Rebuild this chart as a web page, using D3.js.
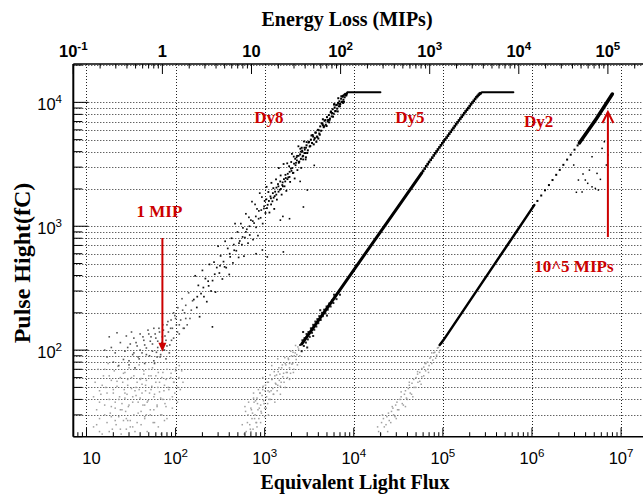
<!DOCTYPE html>
<html><head><meta charset="utf-8">
<script src="https://cdn.jsdelivr.net/npm/d3@7"></script>
<style>html,body{margin:0;padding:0;background:#fff;overflow:hidden}</style>
</head><body>
<svg id="chart" width="643" height="497"></svg>
<script>
// ---------------- DATA ----------------
const bottomTickValues = [10, 1e2, 1e3, 1e4, 1e5, 1e6, 1e7];
const bottomTickLabels = [["10", ""], ["10", "2"], ["10", "3"], ["10", "4"], ["10", "5"], ["10", "6"], ["10", "7"]];
const topTickValues = [0.1, 1, 10, 1e2, 1e3, 1e4, 1e5];
const topTickLabels = [["10", "-1"], ["1", ""], ["10", ""], ["10", "2"], ["10", "3"], ["10", "4"], ["10", "5"]];
const leftTickValues = [1e2, 1e3, 1e4];
const leftTickLabels = [["10", "2"], ["10", "3"], ["10", "4"]];

// Dy8 – [equivalent light flux, pulse height fC]
const dy8Upper = [[8350,11800],[8200,11400],[8050,11700],[7900,11000],[7800,11500],[7650,10500],[7500,11100],[7350,10100],[7200,10700],[7050,9700],[6900,10200],[6800,9300],[6650,9900],[6500,8900],[6350,9500],[6200,8500],[6100,9100],[5950,8100],[5800,8800],[5650,7700],[5500,8300],[5400,7400],[5250,7900],[5100,7000],[5000,7600],[4850,6600],[4700,7100],[4600,6300],[4450,6700],[4300,5900],[4200,6400],[4100,5600],[3950,6000],[3850,5300],[3700,5700],[3600,5000],[3500,5300],[3400,4700],[3300,5000],[3200,4400],[3150,4800],[3050,4100],[2950,4500],[2850,3900],[2800,4300],[2700,3700],[2650,4000],[2550,3500],[2500,3800],[2420,3300],[7600,9900],[6000,9600],[5300,6900],[4500,7300],[3800,4800],[3350,5400],[2900,3600],[2600,4300],[6700,10800],[4000,5100],
  [8250,11400],[8000,11600],[7750,10100],[7550,11300],[7400,10100],[7250,11200],[7000,9310],[6850,9730],[6600,8450],[6450,9550],[6250,8500],[6050,9680],[5850,7660],[5700,8210],[5550,8440],[5350,7220],[5150,7210],[4950,6440],[4800,7200],[4650,6420],[4500,6530],[4350,6790],[4150,5480],[4050,5950],[3900,5230],[3750,5700],[3650,5150],[3550,4580],[3450,5450],[3250,4450],[3100,4740],[3000,3900]];
const dy8Mid = [[2950,4780],[2880,3460],[2820,4150],[2760,4830],[2700,3460],[2630,4080],[2570,2960],[2510,4220],[2450,3330],[2390,4420],[2330,2840],[2280,3600],[2220,3110],[2170,2430],[2120,3650],[2070,2690],[2020,3840],[1970,2920],[1930,2280],[1880,3050],[1840,2480],[1790,3220],[1750,1930],[1710,2600],[1670,2100],[1630,3180],[1590,2260],[1550,1800],[1510,2570],[1480,1970],[1440,2950],[1410,2190],[1370,1640],[1340,2390],[1310,1900],[1280,1380],[1250,2030],[1220,1590],[1190,2240],[1160,1740],[1130,1290],[1100,1890],[1080,1490],[1050,2080],[1020,1280],[1000,1600],
  [2400,3700],[2300,3400],[2200,3500],[2100,2700],[2000,2800],[1900,2500],[1800,2400],[1700,2300],[1600,2100],[1520,2000],[1430,1900],[1350,1800],[1260,1700],[1180,1500],[1060,1400],
  [2910,4300],[2790,3900],[2660,3650],[2540,4000],[2415,3250],[2310,3700],[2245,3250],[2135,3200],[2040,2950],[1985,3300],[1905,2750],[1815,2650],[1725,2450],[1645,2400],[1575,2150],[1495,2300],[1425,2100],[1355,2050],[1295,1750],[1235,1850],[1175,1680],[1115,1600],[1045,1650]];
const dy8Lower = [[980,1390],[950,1050],[930,1720],[900,1170],[880,1850],[860,1330],[840,840],[820,1380],[800,980],[780,1500],[760,1060],[740,780],[720,1580],[700,1120],[680,850],[665,1180],[650,730],[630,945],[615,1260],[600,810],[585,573],[570,970],[555,710],[540,1050],[525,760],[510,560],[495,900],[480,634],[465,1050],[450,711],[440,506],[425,800],[410,566],[400,408],[385,662],[370,463],[360,756],[345,518],[335,375],[320,576],[310,419],[300,690],[290,464],[280,294],[270,513],[260,364],[250,300],[240,492],[232,360],[224,246],[216,378],[208,270],[200,440],[193,286],[186,186],[180,333],[173,221],[166,398],[160,256],
  [985,1450],[915,1350],[855,1150],[795,1200],[735,1100],[675,1000],[615,900],[565,820],[515,730],[455,640],[405,600],[355,470],[315,480],[275,410],[235,330],[205,320],[175,270]];
const dy8Outliers = [[2720,1430],[3010,1960],[1620,620],[1500,1120],[942,643],[259,154],[1070,565],[2500,2300],[3600,3100],[1600,1200],[800,600],[1900,1150]];
const dy8Low = [[155,250],[150,210],[145,180],[140,290],[135,160],[130,230],[126,200],[122,150],[118,260],[114,175],[110,135],[106,220],[102,160],[98,190],[95,125],[92,150],[89,175],[86,110],[83,140],[80,160],[78,120],[75,100],[73,145],[71,128],[69,108],[67,88],[65,150],[63,118],[61,96],[59,135],[57,82],[55,112],[53,128],[51,90],[49,145],[47,104],[45,78],[44,120],[42,95],[40,135],[39,85],[37,108],[35,72],[34,125],[33,92],[31,112],[30,76],[28,130],[27,98],[26,84],[24,115],[23,75],[22,138],[21,95],[20,80],[19,105],[18,128],[17,88],[16,100],
  [88,150],[82,170],[76,130],[72,160],[70,115],[66,140],[63,105],[60,125],[57,150],[55,98],[52,118],[50,135],[47,92],[45,110],[43,128],[40,100],[38,88],[36,115],[34,95],[32,140],[30,82],[29,105],[100,180],[110,160],[95,200],[120,210],[130,180],[68,92],[74,100],[80,108],[85,95],[62,88],[78,85],[90,120],[58,78],[105,140],[125,150]];
const dy8Gray = [[13,25],[14,38],[15,52],[16,30],[17,45],[18,22],[18,62],[19,35],[20,48],[21,27],[22,56],[23,40],[24,23],[25,33],[26,65],[27,45],[28,28],[29,52],[30,36],[31,24],[32,60],[33,42],[34,30],[35,70],[36,50],[37,26],[38,38],[40,58],[41,32],[42,45],[44,68],[45,28],[46,52],[48,38],[50,62],[52,30],[53,48],[55,72],[57,42],[58,26],[60,55],[62,36],[64,66],[66,46],[68,30],[70,60],[72,40],[75,52],[78,35],[80,70],[84,48],[88,60],[92,42],[96,55],[100,68],[105,50],[110,75],[12,42],[14,22],[16,70],
  [12,24],[12.5,55],[13,33],[13.5,70],[14,28],[14.5,44],[15,21],[15.5,62],[16,36],[16.5,50],[17,26],[17.5,78],[18,40],[18.5,31],[19,57],[19.5,23],[20,45],[20.5,68],[21,34],[21.5,25],[22,51],[22.5,74],[23,29],[23.5,42],[24,60],[24.5,21],[25,37],[25.5,55],[26,27],[26.5,48],[27,66],[27.5,32],[28,23],[28.5,44],[29,58],[29.5,35],[30,72],[31,27],[32,49],[33,38],[34,62],[35,22],[36,43],[37,55],[38,31],[39,76],[40,41],[41,25],[42,53],[43,36],[44,64],[45,29],[46,47],[47,57],[48,22],[49,39],[50,70],[52,33],[54,51],[56,26],[58,44],[60,62],[62,35],[64,24],[66,55],[68,41],[70,30],[72,66],[74,47],[76,37],[78,58],[80,28],[83,50],[86,40],[89,65],[92,34],[95,55],[98,45],[101,72],[105,38],[109,60],[113,48],[117,68],[121,55],[21,38],[27,41],[33,24],[39,48],[45,36],[51,45],[57,33],[63,50],[69,21],[75,27],[14,47],[19,29],[24,33],[29,27],[35,47],[41,59],[47,30],[53,62]];
const dy8Saturation = [[8200,11500],[8500,12050],[19900,12050]];

// Dy5
const dy5Gray = [[620,22],[650,30],[680,25],[700,34],[720,28],[740,23],[760,38],[780,30],[800,26],[820,41],[840,33],[860,28],[880,45],[900,36],[920,31],[950,48],[970,39],[1000,34],[1020,52],[1050,42],[1080,37],[1100,55],[1130,46],[1160,40],[1200,58],[1230,49],[1260,44],[1300,62],[1340,53],[1380,47],[1420,67],[1460,57],[1500,51],[1550,72],[1600,61],[1650,55],[1700,78],[1750,66],[1800,60],[1850,84],[1900,72],[1950,65],[2000,90],[2060,78],[2120,70],[2200,95],[2260,84],[2330,76],[2400,102],[2480,90],[700,22],[900,26],[1100,30],[1300,38],[1500,44],[1700,50],[1900,58],[2100,66],[820,24],[1000,29],[600,35],[750,45],[950,60],[1200,75],[1400,85],
  [560,25],[590,21],[610,32],[640,26],[660,38],[690,23],[710,33],[730,31],[750,41],[770,28],[790,39],[810,26],[830,37],[850,48],[870,34],[890,45],[910,32],[935,43],[960,51],[985,37],[1010,47],[1040,34],[1070,55],[1090,47],[1120,40],[1150,63],[1180,47],[1210,58],[1250,44],[1280,67],[1320,54],[1360,63],[1400,52],[1440,72],[1480,64],[1530,55],[1580,76],[1630,65],[1680,87],[1730,76],[1790,66],[1840,86],[1900,78],[1960,98],[2020,77],[2080,96],[2150,90],[2220,109],[2290,92],[2360,106]];
const dy5Scatter = [[2500,110],[2600,98],[2650,120],[2750,108],[2800,125],[2900,115],[2950,135],[3050,122],[3100,140],[3200,128],[3300,150],[3400,138],[3500,160],[3600,146],[3700,170],[3800,155],[3900,178],[4000,165],[4100,188],[4250,175],[4400,200],[4500,188],[4650,212],[4800,198],[4950,225],[5100,212],[5300,238],[5500,225],[5700,252],[5900,240],[6100,268],[6400,258],[6700,290],[7000,280],[2700,140],[3000,105],[3500,130],[4200,210],[5000,190],[6000,280]];
const dy5Line = [[2600,112],[5500,240],[10160,451],[33300,1524],[58000,2700]];
const dy5UpperDots = [[60000,2800],[62500,2920],[65000,3050],[67500,3170],[70000,3300],[73000,3440],[76000,3580],[79000,3730],[82000,3880],[85000,4020],[88000,4170],[91500,4330],[95000,4500],[98500,4670],[102000,4840],[106000,5020],[110000,5200],[114000,5390],[118000,5580],[122500,5790],[127000,6000],[131500,6210],[136000,6430],[141000,6660],[146000,6900],[151500,7150],[157000,7400],[162500,7650],[168000,7900],[174000,8170],[180000,8450],[186500,8720],[193000,9000],[200000,9320],[207000,9650],[214500,9970],[222000,10300],[230000,10650],[238000,11000],[245000,11250],[252000,11500],[258000,11700],[265000,11850]];
const dy5Saturation = [[262000,11800],[275000,12050],[618000,12050]];

// Dy2
const dy2Gray = [[19000,22],[20500,26],[22000,24],[23500,29],[25000,27],[26500,32],[28000,30],[29500,36],[31000,33],[33000,40],[35000,37],[37000,44],[39000,41],[41000,49],[43000,45],[45000,54],[47500,50],[50000,60],[52500,55],[55000,66],[58000,61],[61000,73],[64000,68],[67000,80],[70000,75],[73000,88],[77000,83],[81000,96],[85000,91],[89000,105],[94000,100],[99000,114],[21000,30],[24000,22],[27000,35],[30000,28],[34000,46],[38000,35],[42000,55],[46000,42],[52000,67],[57000,53],[63000,78],[69000,66],[75000,95],
  [18500,24],[20000,21],[21500,28],[23000,25],[24500,31],[26000,26],[27500,34],[29000,29],[30500,38],[32000,33],[34000,42],[36000,36],[38000,47],[40000,40],[42000,52],[44500,44],[47000,58],[49500,50],[52000,64],[55000,56],[58000,71],[61000,62],[64500,78],[68000,70],[71500,86],[75000,78],[79000,95],[83000,86],[87000,104],[91000,96],[96000,112]];
const dy2Line = [[92000,110],[102000,121],[341000,440],[1060000,1480]];
const dy2SparseDots = [[1.15e6,1600],[1.27e6,1770],[1.4e6,1950],[1.55e6,2150],[1.7e6,2360],[1.87e6,2600],[2.05e6,2850],[2.25e6,3130],[2.48e6,3450],[2.72e6,3780],[3.0e6,4150],[3.25e6,4490]];
const dy2TopLine = [[3.4e6,4700],[5.3e6,7400],[7.98e6,11670]];
const dy2Outliers = [[3.15e6,1880],[3.74e6,2640],[3.97e6,2360],[4.22e6,2220],[4.72e6,2080],[5.14e6,2020],[5.86e6,2390],[6.49e6,4810],[6.12e6,4250],[4.72e6,3640],[3.65e6,1890],[5.37e6,2670],[2.94e6,3120],[7.14e6,3760],[4.41e6,2840],[6.84e6,3120],[3.32e6,2360],[5.56e6,1960]];

// annotations: [text, flux, pulse]
const seriesLabels = [["Dy8", 1115, 6800], ["Dy5", 42700, 6800], ["Dy2", 1.19e6, 6320]];
const mipArrow = {label: "1 MIP", mip: 1, from: 804, to: 97, labelPulse: 1190};
const bigArrow = {label: "10^5 MIPs", mip: 1e5, from: 818, to: 8360, labelPulse: 427};

// ---------------- DRAW ----------------
const svg = d3.select("#chart");
const L = 73.3, T = 64, B = 436.7, R = 647.9;
const x = d3.scaleLog().domain([7.11, 2e7]).range([L, R]);
const xTop = d3.scaleLog().domain([0.1, Math.pow(10, 5.449)]).range([L, R]);
const y = d3.scaleLog().domain([20, 20400]).range([B, T]);

function logMinors(scale) {
  const [a, b] = scale.domain();
  const out = [];
  for (let e = Math.floor(Math.log10(a)); e <= Math.ceil(Math.log10(b)); e++) {
    for (let m = 2; m <= 9; m++) {
      const v = m * Math.pow(10, e);
      if (v >= a && v <= b) out.push(v);
    }
  }
  return out;
}
function majors(scale) {
  const [a, b] = scale.domain();
  const out = [];
  for (let e = Math.ceil(Math.log10(a) - 1e-9); e <= Math.floor(Math.log10(b) + 1e-9); e++) out.push(Math.pow(10, e));
  return out;
}

const gridColor = "#222";
const grid = svg.append("g");
const yAllTicks = majors(y).concat(logMinors(y)).filter(v => v > 20.5 && v < 20300);
grid.selectAll("line.h").data(yAllTicks).join("line")
  .attr("x1", L).attr("x2", 643).attr("y1", d => Math.round(y(d)) + 0.5).attr("y2", d => Math.round(y(d)) + 0.5)
  .attr("stroke", gridColor).attr("stroke-width", 1).attr("stroke-dasharray", "1,2");
grid.selectAll("line.v").data(bottomTickValues).join("line")
  .attr("x1", d => Math.round(x(d)) + 0.5).attr("x2", d => Math.round(x(d)) + 0.5).attr("y1", T).attr("y2", B)
  .attr("stroke", gridColor).attr("stroke-width", 1).attr("stroke-dasharray", "1,2");

svg.append("clipPath").attr("id", "clip").append("rect").attr("x", L).attr("y", T).attr("width", R - L).attr("height", B - T);
const data = svg.append("g").attr("clip-path", "url(#clip)");
function dots(arr, color, size) {
  data.append("g").selectAll("rect").data(arr).join("rect")
    .attr("x", d => x(d[0]) - size / 2).attr("y", d => y(d[1]) - size / 2)
    .attr("width", size).attr("height", size).attr("fill", color);
}
const line = d3.line().x(d => x(d[0])).y(d => y(d[1]));
function path(arr, w, color) {
  data.append("path").datum(arr).attr("d", line).attr("fill", "none")
    .attr("stroke", color).attr("stroke-width", w).attr("stroke-linecap", "round");
}
dots(dy8Gray, "#a0a0a0", 1.5);
dots(dy5Gray, "#a0a0a0", 1.5);
dots(dy2Gray, "#a0a0a0", 1.5);
dots(dy8Low, "#555", 1.6);
dots(dy8Lower, "#111", 1.7);
dots(dy8Mid, "#000", 1.8);
dots(dy8Upper, "#000", 2);
dots(dy8Outliers, "#000", 1.6);
path(dy8Saturation, 2, "#000");
dots(dy5Scatter, "#222", 2);
path(dy5Line, 3, "#000");
dots(dy5UpperDots, "#000", 2.6);
path(dy5Saturation, 2, "#000");
path(dy2Line, 2.5, "#000");
dots(dy2SparseDots, "#000", 2);
path(dy2TopLine, 3.5, "#000");
dots(dy2Outliers, "#000", 1.5);

const ax = svg.append("g").attr("stroke", "#000");
function ticks(vals, fn) { vals.forEach(fn); }
ticks(majors(x), v => ax.append("line").attr("x1", x(v)).attr("x2", x(v)).attr("y1", B).attr("y2", B - 9).attr("stroke-width", 1));
ticks(logMinors(x), v => ax.append("line").attr("x1", x(v)).attr("x2", x(v)).attr("y1", B).attr("y2", B - 4.5).attr("stroke-width", 1));
ticks(majors(xTop), v => ax.append("line").attr("x1", xTop(v)).attr("x2", xTop(v)).attr("y1", T).attr("y2", T + 10).attr("stroke-width", 1));
ticks(logMinors(xTop), v => ax.append("line").attr("x1", xTop(v)).attr("x2", xTop(v)).attr("y1", T).attr("y2", T + 4.5).attr("stroke-width", 1));
ticks(majors(y), v => ax.append("line").attr("x1", L).attr("x2", L + 15).attr("y1", y(v)).attr("y2", y(v)).attr("stroke-width", 1));
ticks(logMinors(y), v => ax.append("line").attr("x1", L).attr("x2", L + 9).attr("y1", y(v)).attr("y2", y(v)).attr("stroke-width", 1));
ax.append("line").attr("x1", L).attr("x2", 643).attr("y1", B).attr("y2", B).attr("stroke-width", 1.5);
ax.append("line").attr("x1", L).attr("x2", 643).attr("y1", T).attr("y2", T).attr("stroke-width", 1.5);
ax.append("line").attr("x1", L).attr("x2", L).attr("y1", T).attr("y2", B).attr("stroke-width", 2);

function supLabel(g, base, sup, px, py, anchor, font, size, weight) {
  const t = g.append("text").attr("x", px).attr("y", py).attr("text-anchor", anchor)
    .attr("font-family", font).attr("font-size", size).attr("font-weight", weight).attr("fill", "#000");
  t.append("tspan").text(base);
  if (sup) t.append("tspan").attr("dy", -7).attr("font-size", size * 0.7).text(sup);
  return t;
}
const sans = "'Liberation Sans', Arial, Helvetica, sans-serif";
const serif = "'Liberation Serif', 'Times New Roman', Times, serif";
const labels = svg.append("g");
bottomTickValues.forEach((v, i) => {
  const [b, s] = bottomTickLabels[i];
  supLabel(labels, b, s, x(v) + (s ? 0 : 5), 463.5, "middle", sans, 16.5, "normal");
});
topTickValues.forEach((v, i) => {
  const [b, s] = topTickLabels[i];
  supLabel(labels, b, s, xTop(v), 56.7, "middle", sans, 16.5, "bold");
});
leftTickValues.forEach((v, i) => {
  const [b, s] = leftTickLabels[i];
  supLabel(labels, b, s, 62, y(v) + 7.5, "end", sans, 16.5, "normal");
});

svg.append("text").attr("x", 347).attr("y", 26).attr("text-anchor", "middle")
  .attr("font-family", serif).attr("font-size", 20).attr("font-weight", "bold").text("Energy Loss (MIPs)");
svg.append("text").attr("x", 355).attr("y", 489).attr("text-anchor", "middle")
  .attr("font-family", serif).attr("font-size", 20).attr("font-weight", "bold").text("Equivalent Light Flux");
svg.append("text").attr("transform", "translate(30,263) rotate(-90)").attr("text-anchor", "middle")
  .attr("font-family", serif).attr("font-size", 24).attr("font-weight", "bold").text("Pulse Hight(fC)");

const red = "#cc0000";
const ann = svg.append("g");
seriesLabels.forEach(([t, fx, fy]) => {
  ann.append("text").attr("x", x(fx)).attr("y", y(fy)).attr("text-anchor", "middle")
    .attr("font-family", serif).attr("font-size", 17).attr("font-weight", "bold").attr("fill", red).text(t);
});
{
  const ax1 = xTop(mipArrow.mip);
  ann.append("text").attr("x", ax1 - 3).attr("y", y(mipArrow.labelPulse)).attr("text-anchor", "middle")
    .attr("font-family", serif).attr("font-size", 17).attr("font-weight", "bold").attr("fill", red).text(mipArrow.label);
  const y0 = y(mipArrow.from), y1 = y(mipArrow.to);
  ann.append("line").attr("x1", ax1).attr("x2", ax1).attr("y1", y0).attr("y2", y1 - 6).attr("stroke", red).attr("stroke-width", 2);
  ann.append("path").attr("d", `M${ax1 - 4},${y1 - 9} L${ax1 + 4},${y1 - 9} L${ax1},${y1} Z`).attr("fill", red);
}
{
  const ax2 = xTop(bigArrow.mip);
  ann.append("text").attr("x", ax2 - 34).attr("y", y(bigArrow.labelPulse)).attr("text-anchor", "middle")
    .attr("font-family", serif).attr("font-size", 17).attr("font-weight", "bold").attr("fill", red).text(bigArrow.label);
  const y0 = y(bigArrow.from), y1 = y(bigArrow.to);
  ann.append("line").attr("x1", ax2).attr("x2", ax2).attr("y1", y0).attr("y2", y1).attr("stroke", red).attr("stroke-width", 2);
  ann.append("path").attr("d", `M${ax2 - 5.5},${y1 + 11} L${ax2},${y1} L${ax2 + 5.5},${y1 + 11}`).attr("fill", "none").attr("stroke", red).attr("stroke-width", 2);
}
</script>
</body></html>
